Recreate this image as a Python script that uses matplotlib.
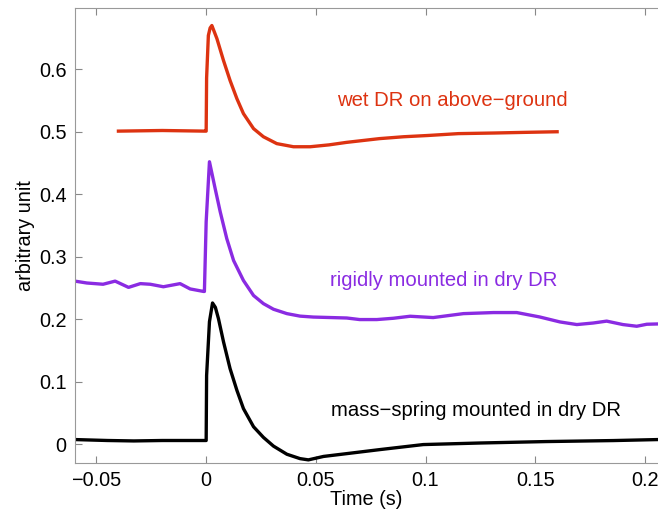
import matplotlib
matplotlib.use("Agg")
import matplotlib.pyplot as plt

plt.rcParams['font.family'] = ['Liberation Sans', 'DejaVu Sans']

# wet DR on above-ground (red)
t_wet = [-0.040, -0.020, -0.0005, 0.0, 0.0002, 0.0010, 0.0018, 0.0026, 0.0049, 0.0079,
         0.0109, 0.014, 0.017, 0.0216, 0.0261, 0.0322, 0.0398, 0.0474, 0.056, 0.064,
         0.079, 0.090, 0.101, 0.115, 0.1316, 0.145, 0.160]
v_wet = [0.501, 0.502, 0.501, 0.501, 0.586, 0.654, 0.666, 0.670, 0.649, 0.614,
         0.582, 0.553, 0.529, 0.505, 0.492, 0.481, 0.476, 0.476, 0.479, 0.483,
         0.489, 0.492, 0.494, 0.497, 0.498, 0.499, 0.500]

# rigidly mounted in dry DR (purple)
t_rig = [-0.0598, -0.0544, -0.047, -0.0415, -0.0354, -0.030, -0.0255, -0.0195, -0.0119,
         -0.0073, -0.0012, -0.0008, 0.0, 0.0015, 0.0041, 0.0064, 0.0094, 0.0125, 0.017,
         0.0216, 0.0261, 0.0307, 0.0368, 0.0428, 0.0489, 0.0641, 0.070, 0.0778, 0.0854,
         0.093, 0.1035, 0.1173, 0.131, 0.1416, 0.152, 0.1613, 0.169, 0.1765, 0.1826,
         0.190, 0.1963, 0.2009, 0.206]
v_rig = [0.261, 0.258, 0.256, 0.261, 0.251, 0.257, 0.256, 0.252, 0.257,
         0.2485, 0.2445, 0.2445, 0.356, 0.452, 0.409, 0.372, 0.329, 0.294, 0.262,
         0.238, 0.225, 0.216, 0.209, 0.205, 0.2035, 0.202, 0.1995, 0.1995, 0.2016,
         0.2048, 0.2027, 0.209, 0.2107, 0.2107, 0.2037, 0.1957, 0.1915, 0.194, 0.197,
         0.1915, 0.1888, 0.192, 0.1925]

# mass-spring mounted in dry DR (black)
t_ms = [-0.0598, -0.045, -0.033, -0.020, -0.0027, 0.0, 0.0002, 0.0015, 0.0029, 0.0042,
        0.0056, 0.0079, 0.0109, 0.014, 0.017, 0.0216, 0.0261, 0.0307, 0.0368, 0.0428,
        0.0466, 0.0535, 0.0641, 0.0793, 0.099, 0.1249, 0.155, 0.1856, 0.206]
v_ms = [0.0075, 0.006, 0.0053, 0.006, 0.006, 0.006, 0.11, 0.196, 0.226, 0.219,
        0.201, 0.164, 0.121, 0.0864, 0.057, 0.028, 0.011, -0.003, -0.016, -0.023,
        -0.025, -0.0195, -0.015, -0.0085, -0.0005, 0.002, 0.0043, 0.0059, 0.0075]

labels = ["wet DR on above\u2212ground", "rigidly mounted in dry DR",
          "mass\u2212spring mounted in dry DR"]
label_pos = [(0.0597, 0.55), (0.0565, 0.262), (0.057, 0.054)]
colors = ['#dd3311', '#8a2be2', '#000000']

xticks = [-0.05, 0, 0.05, 0.1, 0.15, 0.2]
xticklabels = ['\u22120.05', '0', '0.05', '0.1', '0.15', '0.2']
yticks = [0, 0.1, 0.2, 0.3, 0.4, 0.5, 0.6]
yticklabels = ['0', '0.1', '0.2', '0.3', '0.4', '0.5', '0.6']

fig = plt.figure(figsize=(6.58, 5.11), dpi=100)
ax = fig.add_axes([75/658, 48/511, 1 - 75/658, (463 - 8)/511])

for t, v, c in zip([t_wet, t_rig, t_ms], [v_wet, v_rig, v_ms], colors):
    ax.plot(t, v, color=c, lw=2.4, solid_joinstyle='round')

for lab, (x, y), c in zip(labels, label_pos, colors):
    ax.text(x, y, lab, color=c, fontsize=14.6, va='center', ha='left')

ax.set_xlim(-0.0598, 0.206)
ax.set_ylim(-0.030, 0.698)
ax.set_xticks(xticks)
ax.set_xticklabels(xticklabels)
ax.set_yticks(yticks)
ax.set_yticklabels(yticklabels)
ax.tick_params(direction='in', top=True, right=False, length=5, color='#888888',
               labelsize=14.3, pad=6)
for s in ['left', 'bottom', 'top']:
    ax.spines[s].set_color('#999999')
ax.spines['right'].set_visible(False)
ax.set_xlabel('Time (s)', fontsize=14.3, labelpad=0)
ax.set_ylabel('arbitrary unit', fontsize=14.3, labelpad=3)

fig.savefig('out.png', dpi=100)
